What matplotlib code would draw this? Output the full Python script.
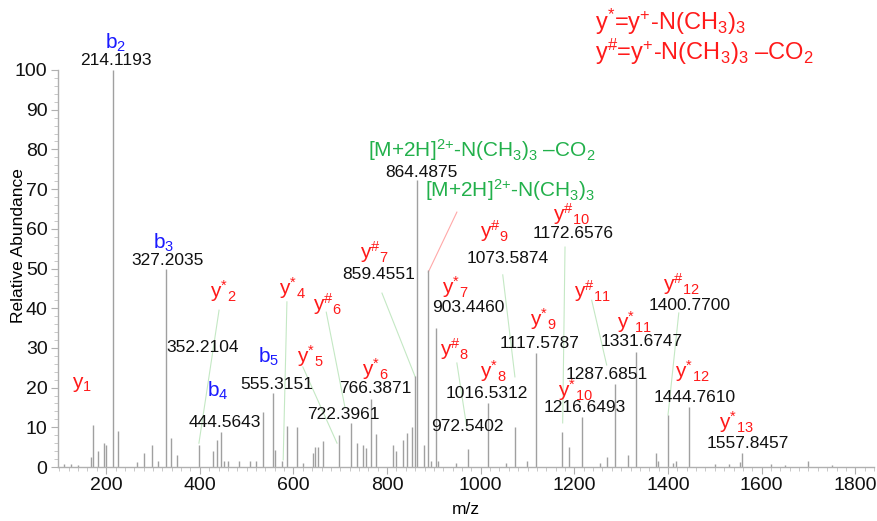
import matplotlib
matplotlib.use("Agg")
import matplotlib.pyplot as plt
from matplotlib.ticker import MultipleLocator

plt.rcParams['font.family'] = ['Liberation Sans', 'DejaVu Sans']
plt.rcParams['mathtext.fontset'] = 'custom'
plt.rcParams['mathtext.rm'] = 'Liberation Sans'
plt.rcParams['mathtext.default'] = 'regular'

# ---- data: peak list (m/z, relative abundance) ----
peak_mz = [110, 125, 140, 168, 172, 183, 196, 200, 214.1193, 226, 266, 280, 298, 310,
           327.2035, 339, 352.2104, 398, 428, 436, 444.5643, 452, 460, 484, 508, 520,
           535, 555.3151, 560, 575, 586, 607, 620, 642, 646, 652, 663, 697, 722.3961,
           735, 749, 755, 766.3871, 776, 813, 818, 834, 842, 853, 859.4551, 864.4875,
           878, 886.49, 893, 903.4460, 908, 948, 972.5402, 1016.5312, 1055, 1073.5874,
           1099, 1117.5787, 1172.6576, 1188, 1216.6493, 1255, 1269, 1287.6851, 1314,
           1331.6747, 1374, 1379, 1400.7700, 1410, 1418, 1444.7610, 1500, 1530, 1553,
           1557.8457, 1620, 1650, 1698, 1750]
peak_int = [0.8, 0.7, 0.6, 2.5, 10.5, 4.0, 6.0, 5.5, 100.0, 9.0, 1.2, 3.5, 5.5, 1.5,
            50.0, 7.3, 3.0, 5.5, 4.0, 6.8, 8.8, 1.5, 1.5, 1.5, 1.5, 1.5,
            13.8, 18.6, 4.2, 1.5, 10.4, 10.0, 1.0, 3.5, 5.0, 5.0, 6.6, 8.0, 11.0,
            6.0, 5.5, 4.8, 17.2, 8.4, 5.5, 4.0, 6.8, 8.6, 10.0, 23.0, 72.3,
            5.5, 49.6, 1.5, 35.0, 1.5, 1.0, 4.5, 16.0, 1.0, 10.0,
            1.5, 28.7, 8.8, 5.0, 12.6, 1.0, 2.5, 21.0, 3.0,
            29.0, 3.5, 1.5, 13.0, 1.0, 1.5, 15.0, 0.8, 0.8, 1.2,
            3.5, 0.8, 0.5, 1.5, 0.5]

# ---- annotations ----
mz_labels = ['214.1193', '327.2035', '352.2104', '444.5643', '555.3151', '722.3961',
             '766.3871', '859.4551', '864.4875', '903.4460', '972.5402', '1016.5312',
             '1073.5874', '1117.5787', '1172.6576', '1216.6493', '1287.6851',
             '1331.6747', '1400.7700', '1444.7610', '1557.8457']
mz_label_pos = [(221, 102.3), (332, 52.1), (405, 30.0), (454, 11.1), (565, 20.7),
                (706, 13.1), (774, 19.7), (781, 48.4), (874, 74.3), (973, 40.3),
                (971, 10.1), (1013, 18.6), (1058, 52.6), (1126, 31.2), (1197, 58.9),
                (1222, 15.1), (1269, 23.4), (1344, 31.5), (1447, 40.8), (1457, 17.6),
                (1570, 6.0)]

ion_labels = ['b$_{2}$', 'b$_{3}$', 'b$_{4}$', 'b$_{5}$', 'y$_{1}$',
              'y$^{*}$$_{2}$', 'y$^{*}$$_{4}$', 'y$^{*}$$_{5}$', 'y$^{*}$$_{6}$',
              'y$^{*}$$_{7}$', 'y$^{*}$$_{8}$', 'y$^{*}$$_{9}$', 'y$^{*}$$_{10}$',
              'y$^{*}$$_{11}$', 'y$^{*}$$_{12}$', 'y$^{*}$$_{13}$',
              'y$^{\\#}$$_{6}$', 'y$^{\\#}$$_{7}$', 'y$^{\\#}$$_{8}$', 'y$^{\\#}$$_{9}$',
              'y$^{\\#}$$_{10}$', 'y$^{\\#}$$_{11}$', 'y$^{\\#}$$_{12}$']
ion_kind = ['b', 'b', 'b', 'b', 'y'] + ['y'] * 18
ion_pos = [(219, 106.8), (322, 56.4), (439, 19.2), (546, 27.7), (149, 20.9),
           (450, 44.2), (597, 45.0), (635, 28.0), (774, 24.6),
           (945, 45.3), (1026, 24.1), (1133, 37.2), (1202, 19.4),
           (1327, 36.5), (1451, 24.1), (1547, 11.3),
           (672, 41.0), (774, 54.1), (945, 29.7), (1030, 59.4),
           (1195, 63.8), (1239, 44.2), (1429, 46.0)]

green_labels = ['[M+2H]$^{2{+}}$-N(CH$_{3}$)$_{3}$ \u2013CO$_{2}$',
                '[M+2H]$^{2{+}}$-N(CH$_{3}$)$_{3}$']
green_pos = [(1003, 79.8), (1062, 69.8)]

leader_start = [(441, 39.5), (586, 41.6), (670, 39.0), (620, 25.2), (789, 43.8),
                (1047, 48.4), (1180, 55.4), (949, 26.2), (1237, 42.0), (1423, 38.8)]
leader_end = [(398, 6.0), (578, 1.8), (710, 15.0), (693, 6.0), (860, 22.7),
              (1073, 22.7), (1175, 11.1), (970, 10.1), (1269, 25.7), (1400, 13.1)]
red_leader_start = (949, 64.2)
red_leader_end = (888, 49.1)

legend_lines = ['y$^{*}$=y$^{+}$-N(CH$_{3}$)$_{3}$',
                'y$^{\\#}$=y$^{+}$-N(CH$_{3}$)$_{3}$ \u2013CO$_{2}$']

RED = '#ff1a1a'
BLUE = '#1a1aff'
GREEN = '#22b04b'

W, H = 877, 521
fig = plt.figure(figsize=(W / 100, H / 100), dpi=100)
ax = fig.add_axes([58 / W, (521 - 467) / H, (874 - 58) / W, (467 - 70) / H])

ax.vlines(peak_mz, 0, peak_int, color='#a0a0a0', lw=1.0, zorder=2)

for (x0, y0), (x1, y1) in zip(leader_start, leader_end):
    ax.plot([x0, x1], [y0, y1], color='#c4e8c4', lw=0.8, zorder=1)
ax.plot([red_leader_start[0], red_leader_end[0]], [red_leader_start[1], red_leader_end[1]],
        color='#ffa8a8', lw=0.8, zorder=1)

for t, (x, y) in zip(mz_labels, mz_label_pos):
    ax.text(x, y, t, ha='center', va='center', fontsize=12.5, color='#111111',
            zorder=3, clip_on=False)

for t, k, (x, y) in zip(ion_labels, ion_kind, ion_pos):
    ax.text(x, y, t, ha='center', va='center', fontsize=15,
            color=BLUE if k == 'b' else RED, zorder=3, clip_on=False)

for t, (x, y) in zip(green_labels, green_pos):
    ax.text(x, y, t, ha='center', va='center', fontsize=15, color=GREEN, zorder=3)

fig.text(595 / W, 1 - 22 / H, legend_lines[0], ha='left', va='center', fontsize=17, color=RED)
fig.text(595 / W, 1 - 52 / H, legend_lines[1], ha='left', va='center', fontsize=17, color=RED)

ax.set_xlim(97, 1840)
ax.set_ylim(0, 100)
ax.xaxis.set_major_locator(MultipleLocator(200))
ax.xaxis.set_minor_locator(MultipleLocator(20))
ax.yaxis.set_major_locator(MultipleLocator(10))
ax.yaxis.set_minor_locator(MultipleLocator(2))
for s in ['top', 'right']:
    ax.spines[s].set_visible(False)
for s in ['left', 'bottom']:
    ax.spines[s].set_color('#b0b0b0')
    ax.spines[s].set_linewidth(1.0)
ax.tick_params(which='major', length=5, color='#b0b0b0', labelsize=14, labelcolor='#111111', pad=2.5)
ax.tick_params(which='minor', length=3, color='#c0c0c0')
ax.set_xlabel('m/z', fontsize=12.5)
ax.set_ylabel('Relative Abundance', fontsize=12.5)
ax.xaxis.set_label_coords(0.5, -0.088)
ax.yaxis.set_label_coords(-0.039, 0.559)

fig.savefig('out.png', dpi=100)
